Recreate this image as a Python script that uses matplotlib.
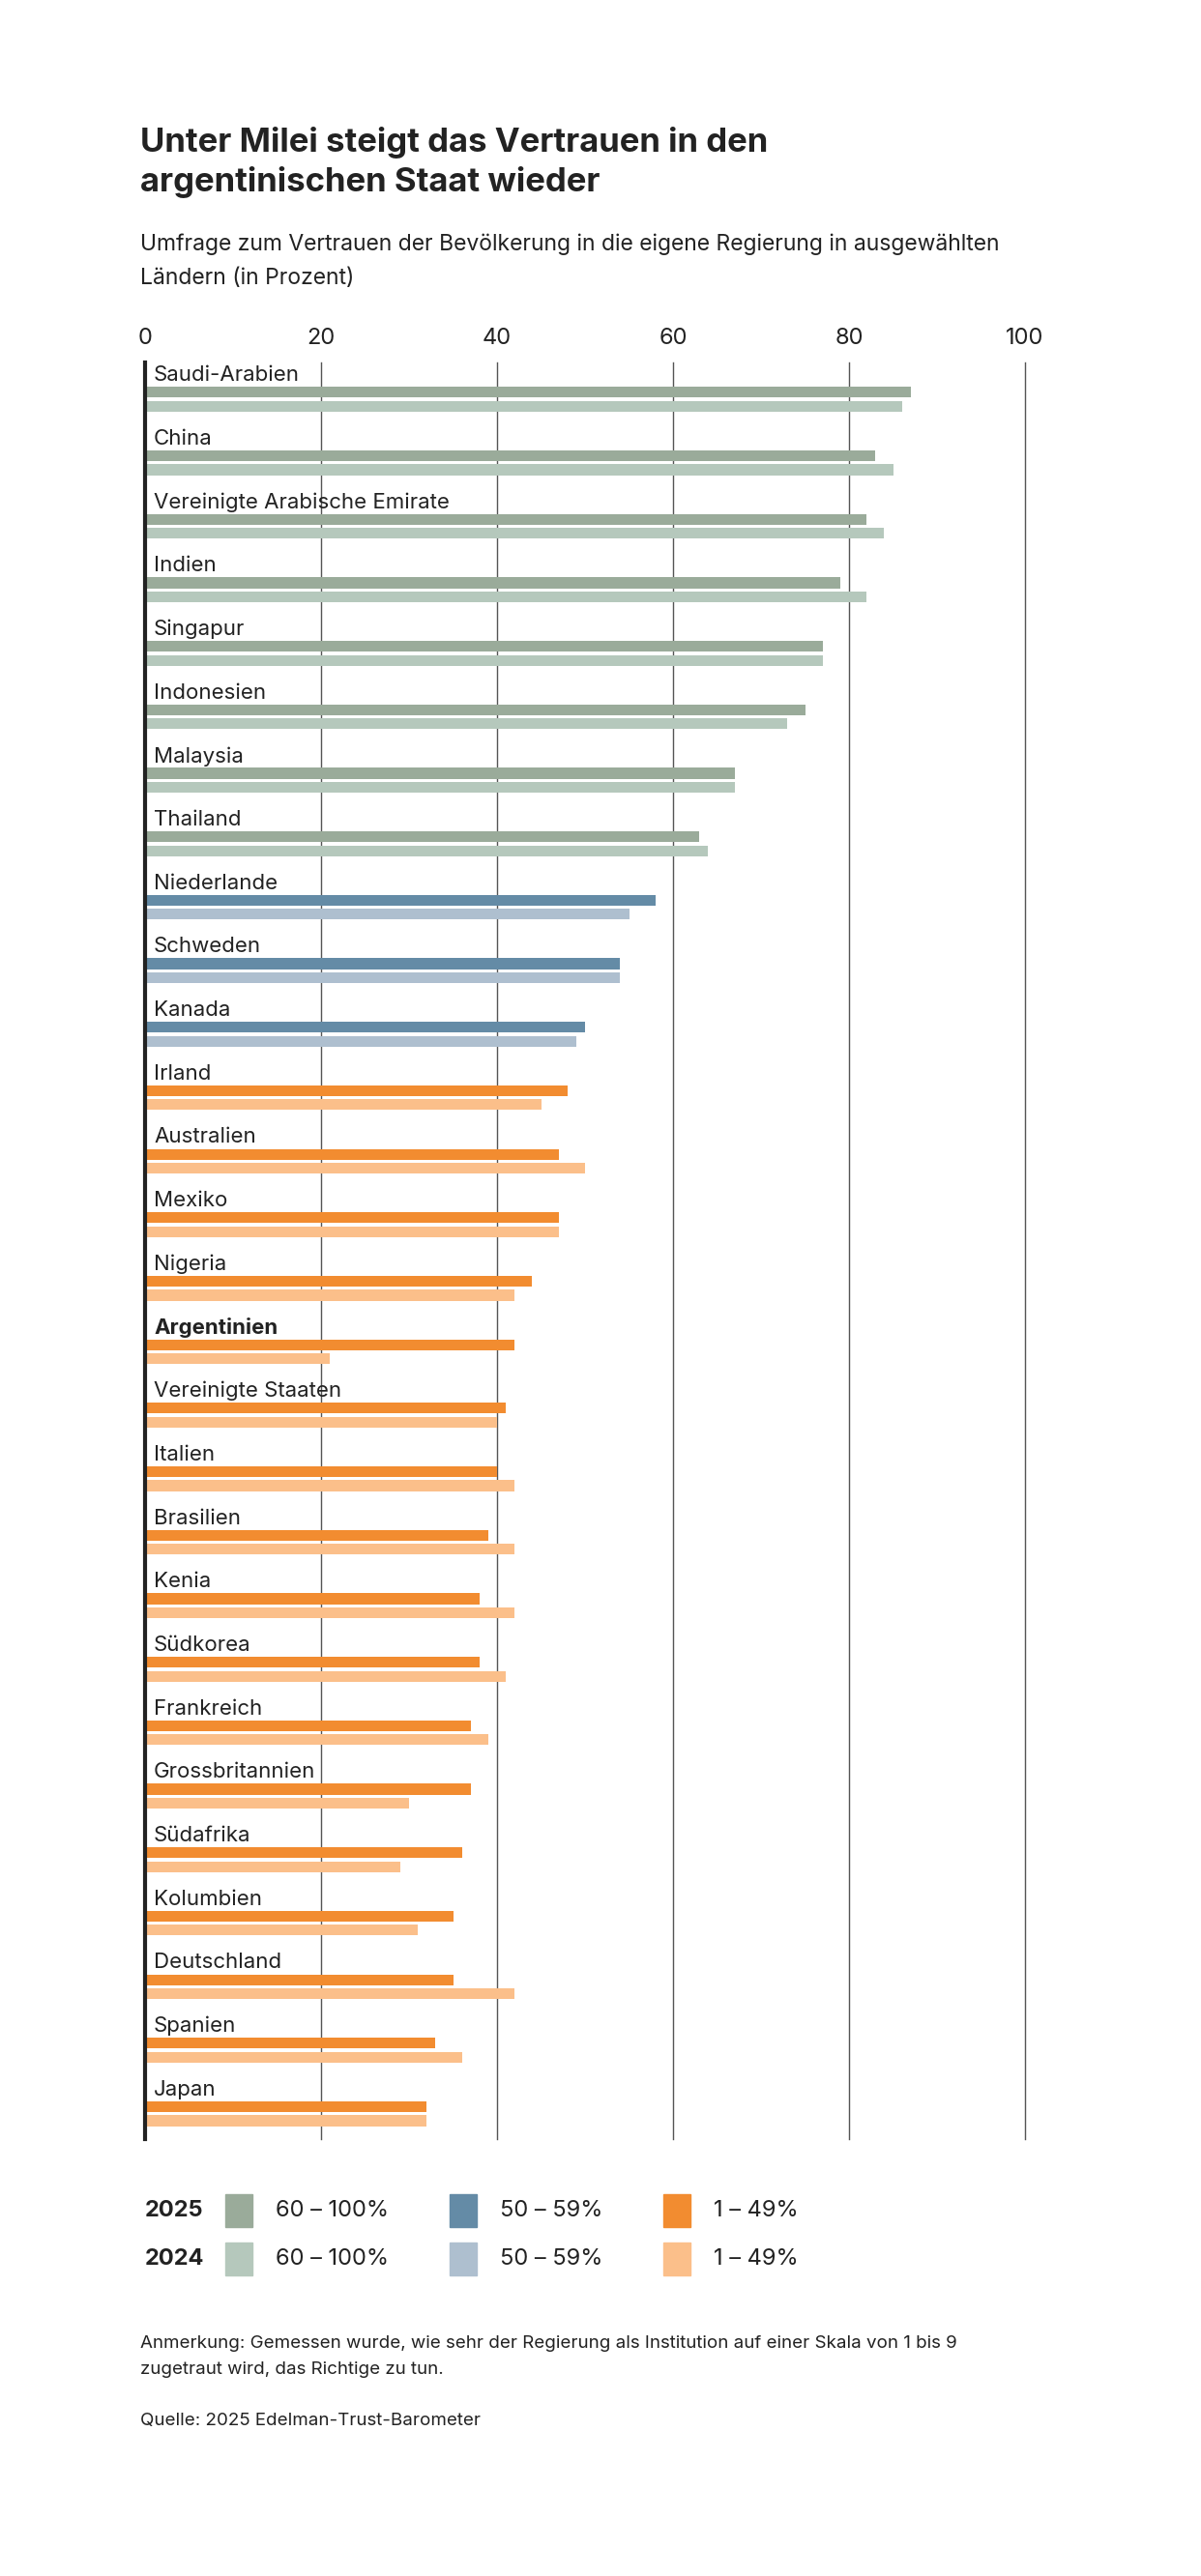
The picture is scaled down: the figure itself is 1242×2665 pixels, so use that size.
import matplotlib.pyplot as plt
from matplotlib.patches import Rectangle
import numpy as np

plt.rcParams['font.family'] = ['Inter', 'DejaVu Sans']

countries = ['Saudi-Arabien', 'China', 'Vereinigte Arabische Emirate', 'Indien', 'Singapur',
             'Indonesien', 'Malaysia', 'Thailand', 'Niederlande', 'Schweden', 'Kanada', 'Irland',
             'Australien', 'Mexiko', 'Nigeria', 'Argentinien', 'Vereinigte Staaten', 'Italien',
             'Brasilien', 'Kenia', 'Südkorea', 'Frankreich', 'Grossbritannien', 'Südafrika',
             'Kolumbien', 'Deutschland', 'Spanien', 'Japan']
val_2025 = [87, 83, 82, 79, 77, 75, 67, 63, 58, 54, 50, 48, 47, 47, 44, 42, 41, 40, 39, 38,
            38, 37, 37, 36, 35, 35, 33, 32]
val_2024 = [86, 85, 84, 82, 77, 73, 67, 64, 55, 54, 49, 45, 50, 47, 42, 21, 40, 42, 42, 42,
            41, 39, 30, 29, 31, 42, 36, 32]
xticks = [0, 20, 40, 60, 80, 100]
legend_labels = ['60 – 100%', '50 – 59%', '1 – 49%']

col25 = {'high': '#9aab9a', 'mid': '#648ba6', 'low': '#f28c30'}
col24 = {'high': '#b5c8bc', 'mid': '#aebfcf', 'low': '#fbbf8a'}

def band(v):
    if v >= 60:
        return 'high'
    if v >= 50:
        return 'mid'
    return 'low'

# colour groups follow the 2025 value of each country
groups = [band(v) for v in val_2025]

W, H = 1242, 2665
fig = plt.figure(figsize=(W / 100, H / 100), dpi=100)
ax = fig.add_axes([150 / W, 1 - 2213 / H, 910 / W, (2213 - 375) / H])

y = np.arange(len(countries))
ax.barh(y + 0.27, val_2025, height=0.17, color=[col25[g] for g in groups], zorder=2)
ax.barh(y + 0.49, val_2024, height=0.17, color=[col24[g] for g in groups], zorder=2)
for i, c in enumerate(countries):
    ax.text(1, i, c, fontsize=16, color='#222222', va='center', ha='left',
            fontweight='bold' if c == 'Argentinien' else 'normal', zorder=3)

ax.set_xlim(0, 100)
ax.set_ylim(27.78, -0.2)
for x in xticks[1:]:
    ax.axvline(x, color='#555555', lw=1, zorder=1, clip_on=False)
ax.axvline(0, color='#222222', lw=3, zorder=4, clip_on=False)
ax.xaxis.tick_top()
ax.set_xticks(xticks)
ax.tick_params(axis='x', length=0, labelsize=17, colors='#222222', pad=10)
ax.set_yticks([])
for s in ax.spines.values():
    s.set_visible(False)

fig.text(145 / W, 1 - 168 / H, 'Unter Milei steigt das Vertrauen in den\nargentinischen Staat wieder',
         fontsize=25, fontweight='bold', color='#222222', va='center', linespacing=1.3)
fig.text(145 / W, 1 - 270 / H, 'Umfrage zum Vertrauen der Bevölkerung in die eigene Regierung in ausgewählten\nLändern (in Prozent)',
         fontsize=16.5, color='#222222', va='center', linespacing=1.75)

# legend
for row, (year, cols) in enumerate([('2025', col25), ('2024', col24)]):
    yc = 2287 + row * 50
    fig.text(150 / W, 1 - yc / H, year, fontsize=17, fontweight='bold', color='#222222', va='center')
    for k, (key, x0) in enumerate(zip(['high', 'mid', 'low'], [233, 465, 686])):
        fig.add_artist(Rectangle((x0 / W, 1 - (yc + 17) / H), 28 / W, 34 / H,
                                 transform=fig.transFigure, color=cols[key]))
        fig.text((x0 + 52) / W, 1 - yc / H, legend_labels[k], fontsize=17, color='#222222', va='center')

fig.text(145 / W, 1 - 2438 / H, 'Anmerkung: Gemessen wurde, wie sehr der Regierung als Institution auf einer Skala von 1 bis 9\nzugetraut wird, das Richtige zu tun.',
         fontsize=13.5, color='#222222', va='center', linespacing=1.7)
fig.text(145 / W, 1 - 2505 / H, 'Quelle: 2025 Edelman-Trust-Barometer', fontsize=13.5, color='#222222', va='center')

fig.savefig('out.png', dpi=100, facecolor='white')
